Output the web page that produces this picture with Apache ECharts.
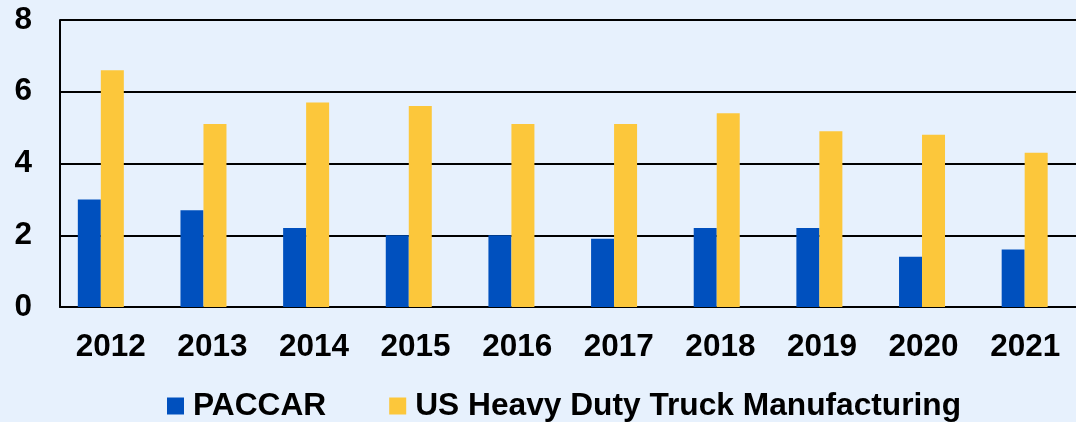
<!DOCTYPE html>
<html><head><meta charset="utf-8">
<script src="https://cdn.jsdelivr.net/npm/echarts@6/dist/echarts.min.js"></script>
<style>html,body{margin:0;padding:0;background:#E7F1FD;}#c{width:1076px;height:422px;}</style>
</head><body><div id="c"></div>
<script>
const categories = ['2012','2013','2014','2015','2016','2017','2018','2019','2020','2021'];
const paccar = [3.0, 2.7, 2.2, 2.0, 2.0, 1.9, 2.2, 2.2, 1.4, 1.6];
const usHeavy = [6.6, 5.1, 5.7, 5.6, 5.1, 5.1, 5.4, 4.9, 4.8, 4.3];
const yTicks = [0, 2, 4, 6, 8];
const seriesNames = ['PACCAR', 'US Heavy Duty Truck Manufacturing'];

const font = 'Liberation Sans, Arial, sans-serif';
const chart = echarts.init(document.getElementById('c'));
chart.setOption({
  backgroundColor: '#E7F1FD',
  animation: false,
  legend: {
    left: 167, top: 390, padding: 0, itemWidth: 17, itemHeight: 17, icon: 'rect', itemGap: 63,
    textStyle: {fontFamily: font, fontWeight: 'bold', fontSize: 31.7, color: '#000', padding: [0,0,0,4]},
    data: seriesNames
  },
  grid: [
    {left: 49.5, width: 1030, top: 20, bottom: 115, containLabel: false},
    {left: 60, width: 1030, top: 20, bottom: 115, containLabel: false}
  ],
  xAxis: [
    {type: 'category', gridIndex: 0, data: categories, show: false},
    {type: 'category', gridIndex: 1, data: categories,
     axisLine: {show: true, lineStyle: {color: '#000', width: 2}}, axisTick: {show: false},
     axisLabel: {fontFamily: font, fontWeight: 'bold', fontSize: 31.5, color: '#000', margin: 24}}
  ],
  yAxis: [
    {type: 'value', gridIndex: 0, min: 0, max: 8, interval: 2, show: false, splitLine: {show: false}},
    {type: 'value', gridIndex: 1, min: 0, max: 8, interval: 2,
     axisLine: {show: true, lineStyle: {color: '#000', width: 2}},
     axisTick: {show: false},
     axisLabel: {fontFamily: font, fontWeight: 'bold', fontSize: 31.5, color: '#000', margin: 28,
       padding: [2, 0, 0, 0],
       formatter: v => yTicks.includes(v) ? String(v) : ''},
     splitLine: {show: true, lineStyle: {color: '#000', width: 2}}}
  ],
  series: [
    {name: seriesNames[0], type: 'bar', xAxisIndex: 0, yAxisIndex: 0, data: paccar,
     barWidth: 23, barGap: '0%', itemStyle: {color: '#0050BE'}},
    {name: seriesNames[1], type: 'bar', xAxisIndex: 0, yAxisIndex: 0, data: usHeavy,
     barWidth: 23, barGap: '0%', itemStyle: {color: '#FCC73B'}}
  ]
});
</script></body></html>
